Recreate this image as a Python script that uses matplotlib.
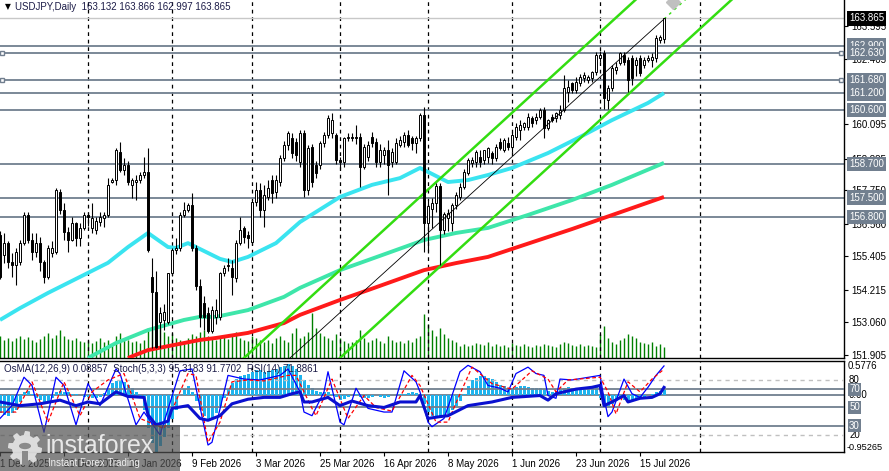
import numpy as np
import matplotlib
matplotlib.use('Agg')
import matplotlib.pyplot as plt
from matplotlib.patches import Rectangle, Polygon, Circle

plt.rcParams['font.family'] = ['Liberation Sans', 'DejaVu Sans']

# daily USDJPY bars, 1 Dec 2025 .. 23 Jul 2026
opens = [
    156.17, 155.46, 155.87, 155.22, 155.11, 155.22, 155.87, 156.88, 155.99, 155.58,
    155.87, 155.22, 154.69, 155.52, 155.58, 157.71, 157.06, 156.29, 155.99, 156.58,
    156.05, 156.41, 156.88, 156.41, 156.35, 156.64, 156.76, 156.88, 158.06, 158.12,
    159.13, 158.48, 158.66, 157.95, 158.06, 158.12, 158.30, 158.42, 154.69, 154.16,
    153.09, 153.15, 153.09, 154.81, 155.64, 155.70, 156.88, 157.06, 157.24, 155.70,
    154.34, 153.74, 153.39, 152.74, 153.27, 153.27, 154.81, 155.05, 154.99, 154.63,
    155.87, 156.41, 156.17, 155.93, 157.35, 157.77, 157.06, 157.53, 158.12, 157.71,
    158.06, 158.89, 159.37, 159.60, 159.49, 158.77, 159.78, 157.77, 159.31, 158.65,
    158.65, 159.43, 159.72, 159.78, 159.72, 158.83, 158.77, 159.60, 159.66, 159.66,
    159.66, 158.60, 158.95, 159.66, 159.48, 158.77, 159.00, 159.19, 158.77, 158.77,
    159.37, 159.48, 159.72, 159.60, 159.43, 159.60, 160.43, 156.60, 157.10, 157.30,
    157.90, 156.35, 156.76, 156.58, 157.23, 157.53, 157.89, 158.36, 158.71, 158.77,
    158.95, 158.83, 158.95, 159.07, 158.89, 159.48, 159.19, 159.43, 159.31, 159.66,
    159.90, 160.02, 160.02, 160.31, 160.25, 160.37, 160.61, 159.96, 160.37, 160.31,
    160.43, 160.61, 161.26, 161.56, 161.32, 161.56, 161.73, 161.68, 161.73, 161.97,
    162.45, 162.62, 160.97, 161.38, 162.03, 162.27, 162.56, 162.39, 162.45, 162.21,
    162.45, 162.21, 162.39, 162.39, 162.45, 163.10, 163.132]
highs = [
    156.30, 156.23, 155.95, 155.52, 155.70, 156.00, 157.00, 157.00, 156.23, 156.23,
    156.10, 155.28, 155.80, 155.95, 157.83, 157.80, 157.30, 156.47, 156.82, 156.64,
    156.58, 157.00, 157.00, 157.29, 156.80, 157.00, 157.00, 158.18, 158.20, 159.25,
    159.49, 158.89, 158.80, 158.18, 158.30, 158.40, 158.95, 159.25, 155.34, 154.90,
    153.60, 153.70, 154.81, 155.70, 156.05, 157.00, 157.35, 157.30, 157.65, 155.80,
    154.60, 154.00, 153.60, 153.63, 153.90, 154.87, 155.10, 155.34, 155.28, 155.99,
    156.82, 156.50, 156.30, 157.41, 158.06, 158.00, 157.95, 158.12, 158.30, 158.30,
    159.00, 159.50, 159.85, 159.78, 159.60, 159.90, 159.90, 159.37, 159.40, 158.80,
    159.50, 159.84, 160.43, 160.49, 159.80, 158.95, 159.66, 159.78, 159.80, 160.08,
    159.80, 159.40, 159.50, 159.84, 159.60, 159.40, 159.30, 159.54, 159.25, 159.60,
    159.70, 159.84, 159.90, 159.70, 159.70, 160.49, 160.73, 157.40, 157.50, 158.00,
    158.00, 157.00, 157.10, 157.30, 157.70, 158.00, 158.50, 158.90, 158.95, 159.20,
    159.20, 159.19, 159.31, 159.15, 159.40, 159.60, 159.60, 159.66, 159.84, 160.14,
    160.25, 160.20, 160.49, 160.40, 160.49, 160.67, 160.70, 160.30, 160.45, 160.55,
    160.79, 161.85, 161.68, 161.60, 161.79, 161.90, 161.97, 161.85, 162.00, 162.68,
    162.70, 162.74, 161.50, 162.20, 162.30, 162.68, 162.68, 162.50, 162.56, 162.50,
    162.56, 162.50, 162.56, 162.62, 163.28, 163.28, 163.866]
lows = [
    154.60, 155.16, 154.99, 154.69, 154.39, 155.10, 155.80, 155.90, 155.28, 155.40,
    154.90, 154.45, 154.60, 155.40, 155.50, 156.90, 155.99, 155.58, 155.95, 155.76,
    155.76, 156.35, 156.50, 156.23, 156.20, 156.50, 156.47, 156.80, 158.00, 157.95,
    158.40, 158.30, 157.95, 157.47, 157.41, 158.00, 158.20, 155.58, 152.14, 152.14,
    152.14, 152.80, 153.00, 154.70, 155.50, 155.60, 156.80, 157.00, 155.60, 154.20,
    152.90, 152.80, 152.68, 152.68, 153.00, 153.15, 154.70, 154.90, 154.04, 154.50,
    155.80, 155.90, 155.70, 155.80, 157.20, 156.80, 156.47, 157.40, 157.30, 157.50,
    157.90, 158.80, 159.20, 158.90, 158.80, 158.60, 157.53, 157.60, 157.89, 158.20,
    158.50, 159.30, 159.60, 159.60, 158.70, 158.50, 158.60, 159.50, 159.50, 159.40,
    157.89, 158.50, 158.80, 159.30, 158.60, 158.60, 158.70, 157.59, 158.60, 158.70,
    159.30, 159.30, 159.30, 159.20, 159.07, 159.50, 155.58, 155.60, 156.40, 157.00,
    155.10, 156.20, 156.30, 156.30, 157.10, 157.40, 157.80, 158.30, 158.60, 158.60,
    158.60, 158.70, 158.71, 158.70, 158.80, 159.20, 159.10, 159.20, 159.13, 159.55,
    159.54, 159.90, 159.90, 160.00, 160.10, 160.30, 159.60, 159.90, 160.20, 160.20,
    160.30, 160.55, 160.91, 161.20, 161.20, 161.45, 161.62, 161.56, 161.60, 161.85,
    162.30, 160.66, 160.66, 161.30, 161.90, 162.20, 162.20, 161.26, 161.50, 161.80,
    161.80, 162.10, 162.30, 162.15, 162.33, 162.98, 162.997]
closes = [
    154.69, 155.87, 155.22, 155.11, 155.58, 155.87, 156.88, 155.99, 155.58, 155.87,
    155.22, 154.69, 155.70, 155.70, 157.77, 157.06, 156.29, 155.99, 156.58, 156.05,
    156.41, 156.88, 156.82, 156.76, 156.68, 156.82, 156.88, 157.95, 158.12, 159.19,
    158.48, 158.66, 158.06, 158.12, 158.12, 158.30, 158.42, 155.64, 154.16, 152.20,
    153.39, 153.45, 154.81, 155.64, 155.70, 156.88, 157.06, 157.24, 155.70, 154.34,
    153.27, 153.27, 152.74, 153.51, 153.51, 154.81, 154.99, 155.11, 154.69, 155.87,
    156.35, 156.11, 156.05, 157.35, 157.77, 157.06, 157.59, 157.83, 157.65, 158.12,
    158.89, 159.37, 159.78, 159.07, 159.01, 159.78, 157.77, 159.25, 158.06, 158.36,
    159.43, 159.72, 160.31, 160.25, 158.83, 158.77, 159.60, 159.66, 159.60, 159.60,
    158.60, 159.31, 159.37, 159.43, 158.77, 159.19, 159.19, 158.65, 159.13, 159.43,
    159.54, 159.72, 159.37, 159.43, 159.60, 160.43, 156.58, 157.20, 157.30, 157.90,
    156.35, 156.90, 156.94, 157.23, 157.59, 157.89, 158.42, 158.83, 158.83, 159.13,
    158.77, 159.19, 159.25, 158.89, 159.31, 159.25, 159.54, 159.31, 159.72, 160.02,
    160.08, 160.14, 160.37, 160.14, 160.37, 160.61, 159.96, 160.25, 160.25, 160.49,
    160.61, 161.38, 161.44, 161.32, 161.62, 161.79, 161.85, 161.79, 161.97, 162.56,
    162.56, 161.03, 161.38, 162.09, 162.15, 162.62, 162.33, 161.68, 161.73, 162.39,
    161.91, 162.39, 162.45, 162.51, 163.16, 163.22, 163.865]
volumes = [
    22, 18, 20, 17, 20, 22, 19, 21, 18, 16,
    19, 22, 25, 20, 23, 28, 22, 19, 18, 20,
    17, 16, 18, 15, 17, 20, 16, 18, 14, 22,
    25, 20, 18, 16, 17, 15, 18, 30, 28, 44,
    32, 26, 22, 25, 20, 18, 16, 20, 24, 22,
    26, 28, 22, 20, 18, 20, 22, 19, 24, 26,
    20, 18, 17, 22, 20, 18, 16, 18, 15, 20,
    22, 18, 16, 25, 30, 20, 22, 26, 45, 30,
    25, 22, 20, 18, 24, 20, 17, 15, 16, 18,
    28, 20, 16, 18, 20, 17, 15, 22, 18, 16,
    17, 15, 18, 16, 20, 22, 44, 34, 28, 22,
    30, 24, 20, 18, 16, 12, 14, 12, 13, 15,
    14, 13, 16, 12, 14, 12, 13, 11, 15, 13,
    12, 14, 12, 11, 13, 12, 14, 13, 12, 11,
    14, 16, 15, 13, 12, 14, 12, 13, 12, 11,
    24, 32, 20, 16, 14, 18, 20, 24, 22, 20,
    16, 15, 14, 16, 12, 14, 11]

# moving averages, read at sample bars
ma_fast_x = [0, 5, 12, 20, 27, 32, 37, 42, 44, 47, 52, 55, 58, 62, 67, 69, 75,
             85, 93, 100, 105, 107, 112, 117, 122, 128, 137, 145, 153, 162, 166]
ma_fast = [153.15, 153.57, 154.11, 154.68, 155.18, 155.74, 156.24, 155.74, 155.71,
           155.88, 155.53, 155.32, 155.21, 155.39, 155.74, 155.88, 156.63, 157.52,
           157.95, 158.19, 158.55, 158.41, 158.05, 158.12, 158.30, 158.55, 159.08,
           159.65, 160.25, 160.86, 161.21]
ma_mid_x = [22, 29, 37, 46, 50, 54, 62, 71, 75, 85, 97, 106, 114, 122, 132, 143, 153, 166]
ma_mid = [151.80, 152.33, 152.79, 153.15, 153.26, 153.26, 153.50, 153.97, 154.29,
          154.92, 155.53, 155.99, 156.24, 156.42, 156.88, 157.41, 157.95, 158.73]
ma_slow_x = [32, 37, 46, 50, 54, 62, 71, 75, 85, 92, 106, 114, 122, 143, 166]
ma_slow = [151.80, 152.08, 152.33, 152.44, 152.51, 152.69, 153.04, 153.33, 153.86,
           154.21, 154.92, 155.17, 155.39, 156.38, 157.52]

# trend channel (bar, price)
chan_upper_x, chan_upper = [61, 161], [151.80, 164.80]
chan_lower_x, chan_lower = [85, 185], [151.80, 164.80]
chan_mid_x, chan_mid = [72.5, 166], [151.80, 163.84]
chan_ext_x, chan_ext = [166, 175], [163.84, 165.0]

levels = [162.900, 162.630, 161.680, 161.200, 160.600, 158.700, 157.500, 156.800]
anchored = [162.630, 161.680]
last_price = 163.865
price_ticks = [163.595, 162.405, 160.095, 158.885, 157.750, 156.560, 155.405,
               154.215, 153.060, 151.905]

# month separators (bar index)
separators = [22, 43, 63, 85, 107, 128, 150, 175]
date_bars = [0, 16, 32, 48, 64, 80, 96, 112, 128, 144, 160]
date_labels = ['1 Dec 2025', '23 Dec 2025', '16 Jan 2026', '9 Feb 2026', '3 Mar 2026',
               '25 Mar 2026', '16 Apr 2026', '8 May 2026', '1 Jun 2026', '23 Jun 2026',
               '15 Jul 2026']

# OsMA(12,26,9) histogram
osma = [
    -0.30, -0.33, -0.35, -0.30, -0.25, -0.12, 0.05, 0.08, 0.02, -0.05,
    -0.08, -0.12, -0.10, -0.04, 0.05, 0.08, 0.06, 0.05, 0.03, 0.02,
    0.01, -0.02, -0.03, -0.05, -0.04, -0.02, 0.04, 0.12, 0.20, 0.24,
    0.25, 0.22, 0.18, 0.12, 0.05, -0.05, -0.25, -0.55, -0.80, -0.95,
    -0.85, -0.70, -0.55, -0.40, -0.25, 0.00, 0.10, 0.15, 0.05, -0.10,
    -0.25, -0.35, -0.40, -0.38, -0.30, -0.18, -0.05, 0.10, 0.20, 0.28,
    0.32, 0.35, 0.36, 0.40, 0.42, 0.42, 0.40, 0.41, 0.43, 0.45,
    0.47, 0.50, 0.52, 0.50, 0.45, 0.35, 0.25, 0.18, 0.12, 0.08,
    0.06, 0.05, 0.05, 0.02, -0.03, -0.08, -0.06, -0.03, 0.00, 0.02,
    -0.02, -0.05, -0.04, -0.02, 0.00, -0.03, -0.04, -0.02, 0.00, 0.01,
    0.02, 0.03, 0.04, 0.05, 0.04, 0.03, -0.15, -0.28, -0.35, -0.38,
    -0.38, -0.36, -0.32, -0.25, -0.18, -0.10, 0.02, 0.15, 0.25, 0.30,
    0.32, 0.32, 0.30, 0.28, 0.22, 0.18, 0.15, 0.12, 0.12, 0.14,
    0.15, 0.15, 0.14, 0.13, 0.12, 0.13, 0.10, 0.08, 0.06, 0.07,
    0.09, 0.13, 0.14, 0.13, 0.13, 0.12, 0.12, 0.13, 0.14, 0.16,
    -0.05, -0.15, -0.18, -0.15, -0.10, -0.05, -0.08, -0.12, -0.10, -0.08,
    -0.05, -0.03, 0.00, 0.03, 0.06, 0.08, 0.0886]

# Stochastic(5,3,3) main / signal and RSI(14), read at turning points
stoch_x = [0, 3, 6, 8, 11, 14, 16, 19, 22, 25, 29, 30, 34, 36, 40, 45, 48, 52, 53, 57,
           61, 65, 70, 72, 75, 76, 78, 81, 82, 85, 86, 89, 92, 96, 98, 101, 104, 105,
           107, 108, 111, 113, 115, 117, 120, 122, 125, 127, 129, 132, 134, 136, 137,
           139, 140, 143, 150, 151, 152, 153, 156, 158, 160, 162, 164, 166]
stoch_main = [38, 52, 83, 74, 23, 83, 74, 31, 76, 52, 92, 87, 31, 45, 20, 90, 92, 9, 12,
              85, 81, 80, 85, 92, 67, 45, 41, 67, 89, 34, 31, 71, 49, 45, 45, 90, 78, 67,
              34, 29, 38, 63, 89, 96, 89, 74, 71, 67, 87, 94, 87, 85, 63, 60, 81, 80, 85,
              60, 40, 45, 81, 65, 61, 72, 85, 95.3]
signal_x = [0, 4, 8, 12, 16, 20, 23, 27, 31, 35, 41, 47, 49, 52, 55, 58, 62, 66, 72, 74,
            78, 79, 83, 87, 91, 94, 98, 103, 105, 109, 112, 114, 118, 123, 128, 133, 137,
            139, 142, 150, 152, 154, 157, 160, 163, 166]
stoch_signal = [45, 45, 78, 34, 78, 41, 67, 80, 87, 38, 27, 87, 85, 12, 34, 78, 80, 79, 85,
                85, 49, 41, 81, 38, 63, 50, 46, 85, 74, 34, 34, 55, 94, 76, 70, 90, 81, 67,
                80, 83, 67, 43, 78, 67, 81, 91.8]
rsi_x = [0, 5, 10, 15, 19, 22, 25, 29, 32, 36, 37, 39, 42, 43, 47, 50, 52, 55, 58, 62, 66,
         70, 73, 75, 76, 78, 82, 85, 88, 92, 96, 100, 104, 105, 107, 110, 112, 117, 123,
         128, 135, 137, 139, 144, 148, 150, 151, 153, 156, 157, 160, 163, 165, 166]
rsi = [56, 52, 54, 58, 52, 56, 54, 67, 62, 61, 42, 31, 35, 49, 52, 38, 36, 41, 54, 59, 61,
       61, 65, 67, 56, 56, 61, 52, 57, 52, 50, 56, 56, 63, 38, 40, 41, 52, 56, 61, 63, 58,
       65, 70, 72, 74, 52, 56, 63, 56, 60, 61, 65, 71.9]

W, H = 889, 471
fig = plt.figure(figsize=(W / 100, H / 100), dpi=100)
fig.patch.set_facecolor('white')


def rect(x0, y0, x1, y1):
    return [x0 / W, 1 - y1 / H, (x1 - x0) / W, (y1 - y0) / H]


SLATE = '#717f8f'
FS = 7

ax = fig.add_axes(rect(0, 0, 844, 358))
sub = fig.add_axes(rect(0, 361, 844, 452))
for a in (ax, sub):
    a.set_xlim(0, 211)
    a.spines['left'].set_visible(False)
    for s in ('right', 'bottom', 'top'):
        a.spines[s].set_color('black')
        a.spines[s].set_linewidth(1)
ax.spines['top'].set_visible(False)
ax.set_ylim(151.798, 164.518)

# volumes along the bottom
x = np.arange(len(closes))
ax.vlines(x, 0, np.array(volumes) / 358.0, color='#008000', lw=1.0,
          transform=ax.get_xaxis_transform(), zorder=1)

for s in separators:
    ax.axvline(s, color='black', lw=0.9, ls=(0, (3, 3)), zorder=2)
    sub.axvline(s, color='black', lw=0.9, ls=(0, (3, 3)), zorder=2)

for lv in levels:
    ax.axhline(lv, color=SLATE, lw=1.3, zorder=2)
ax.axhline(last_price, color='#c8c8c8', lw=1.0, zorder=2)
for lv in anchored:
    ax.plot([0.5, 210.3], [lv, lv], ls='none', marker='s', ms=3.5, mfc='white',
            mec=SLATE, mew=1, clip_on=False, zorder=6)

ax.plot(ma_fast_x, ma_fast, color='#3ae4f0', lw=2.8, zorder=3, solid_capstyle='butt')
ax.plot(ma_mid_x, ma_mid, color='#3ee6aa', lw=2.8, zorder=3, solid_capstyle='butt')
ax.plot(ma_slow_x, ma_slow, color='#ff1a1a', lw=2.8, zorder=3, solid_capstyle='butt')

ax.plot(chan_upper_x, chan_upper, color='#33dd11', lw=1.8, zorder=3)
ax.plot(chan_lower_x, chan_lower, color='#33dd11', lw=1.8, zorder=3)
ax.plot(chan_mid_x, chan_mid, color='black', lw=0.6, zorder=6)
ax.plot(chan_ext_x, chan_ext, color='#33dd11', lw=1.0, ls=(0, (2, 3)), zorder=3)
ax.plot([168.25], [164.45], marker='D', ms=7, color='#c0c0c0', zorder=3)

o, h, l, c = map(np.array, (opens, highs, lows, closes))
up = c >= o
ax.vlines(x, l, h, color='black', lw=0.8, zorder=4)
ax.bar(x, np.maximum(np.abs(c - o), 0.02), bottom=np.minimum(o, c), width=0.55,
       color=np.where(up, 'white', 'black'), edgecolor='black', linewidth=0.7, zorder=5)

ax.yaxis.tick_right()
ax.set_yticks(price_ticks)
ax.set_yticklabels(['%.3f' % t for t in price_ticks])
ax.tick_params(axis='y', length=3, width=0.8, pad=2, labelsize=FS, colors='black')
ax.set_xticks([])

for lv in levels:
    ax.text(1.006, lv, '%.3f' % lv, transform=ax.get_yaxis_transform(), ha='left',
            va='center', fontsize=FS, color='white', clip_on=False, zorder=7,
            bbox=dict(boxstyle='square,pad=0.22', fc=SLATE, ec='none'))
ax.text(1.006, last_price, '%.3f' % last_price, transform=ax.get_yaxis_transform(),
        ha='left', va='center', fontsize=FS, color='white', clip_on=False, zorder=8,
        bbox=dict(boxstyle='square,pad=0.22', fc='black', ec='none'))

# lower window
sub.set_ylim(-0.95265, 0.5776)
sub.bar(x, osma, width=0.75, color='#1eb4ee', zorder=2)
sub.axhline(0, color=SLATE, lw=1.3, zorder=1)
sub.set_yticks([])
sub.set_xticks(date_bars)
sub.set_xticklabels(date_labels, ha='left')
sub.tick_params(axis='x', length=3, width=0.8, pad=2, labelsize=FS, colors='black')

sub2 = sub.twinx()
sub2.set_xlim(0, 211)
sub2.set_ylim(1.4, 100.7)
sub2.set_yticks([])
for s in sub2.spines.values():
    s.set_visible(False)
for lv in (80, 20):
    sub2.axhline(lv, color='#c0c0c0', lw=1.0, ls=(0, (3, 3)), zorder=1)
for lv in (70, 50, 30):
    sub2.axhline(lv, color=SLATE, lw=1.3, zorder=1)
sub2.plot(stoch_x, stoch_main, color='#0000ff', lw=0.9, zorder=3)
sub2.plot(signal_x, stoch_signal, color='#ff0000', lw=0.9, ls=(0, (3, 2)), zorder=3)
sub2.plot(rsi_x, rsi, color='#0a10d0', lw=2.2, zorder=4)

yt = sub.get_yaxis_transform()
sub.text(1.004, 0.5776, '0.5776', transform=yt, ha='left', va='top', fontsize=FS, clip_on=False)
sub.text(1.003, -0.95265, '-0.95265', transform=yt, ha='left', va='bottom', fontsize=6.6,
         clip_on=False)
sub.text(1.006, 0, '0.00', transform=yt, ha='left', va='center', fontsize=FS, clip_on=False)
yt2 = sub2.get_yaxis_transform()
for lv in (80, 20):
    sub2.text(1.006, lv, str(lv), transform=yt2, ha='left', va='center', fontsize=FS,
              clip_on=False)
for lv in (70, 50, 30):
    sub2.text(1.006, lv, str(lv), transform=yt2, ha='left', va='center', fontsize=FS,
              color='white', clip_on=False, zorder=7,
              bbox=dict(boxstyle='square,pad=0.15', fc=SLATE, ec='none'))

# headers
fig.text(5 / W, 1 - 7 / H, '\u25bc', fontsize=5.5, family='DejaVu Sans', va='center')
fig.text(15 / W, 1 - 7 / H, 'USDJPY,Daily  163.132 163.866 162.997 163.865',
         fontsize=FS, color='#1c1c48', va='center')
fig.text(4 / W, 1 - 369 / H,
         'OsMA(12,26,9) 0.08857  Stoch(5,3,3) 95.3183 91.7702  RSI(14) 71.8861',
         fontsize=FS, color='#1c1c48', va='center')

# watermark
ft = fig.transFigure
fig.patches.append(Rectangle((0, 0), 180 / W, 46 / H, transform=ft, fc='#505050',
                             alpha=0.7, ec='none', zorder=10))
ang = np.linspace(0, 2 * np.pi, 65)[:-1]
rad = np.where((np.arange(64) // 4) % 2 == 0, 17.0, 13.0)
gx = 25 + rad * np.cos(ang)
gy = 448 + rad * np.sin(ang)
fig.patches.append(Polygon(np.column_stack([gx / W, 1 - gy / H]), closed=True,
                           transform=ft, fc='#e6e6e6', ec='none', alpha=0.9, zorder=11))
fig.patches.append(Circle((25 / W, 1 - 446 / H), 6 / W, transform=ft, fc='#8a8a8a',
                          ec='none', zorder=12))
fig.patches.append(Rectangle((22 / W, 1 - 465 / H), 6 / W, 14 / H, transform=ft,
                             fc='#8a8a8a', ec='none', zorder=12))
fig.text(45 / W, 1 - 446 / H, 'instaforex', fontsize=18, color='#eeeeee', va='center',
         zorder=13, alpha=0.95)
fig.text(48 / W, 1 - 463 / H, 'Instant Forex Trading', fontsize=7, color='#eeeeee',
         va='center', zorder=13)

fig.savefig('out.png', dpi=100)
